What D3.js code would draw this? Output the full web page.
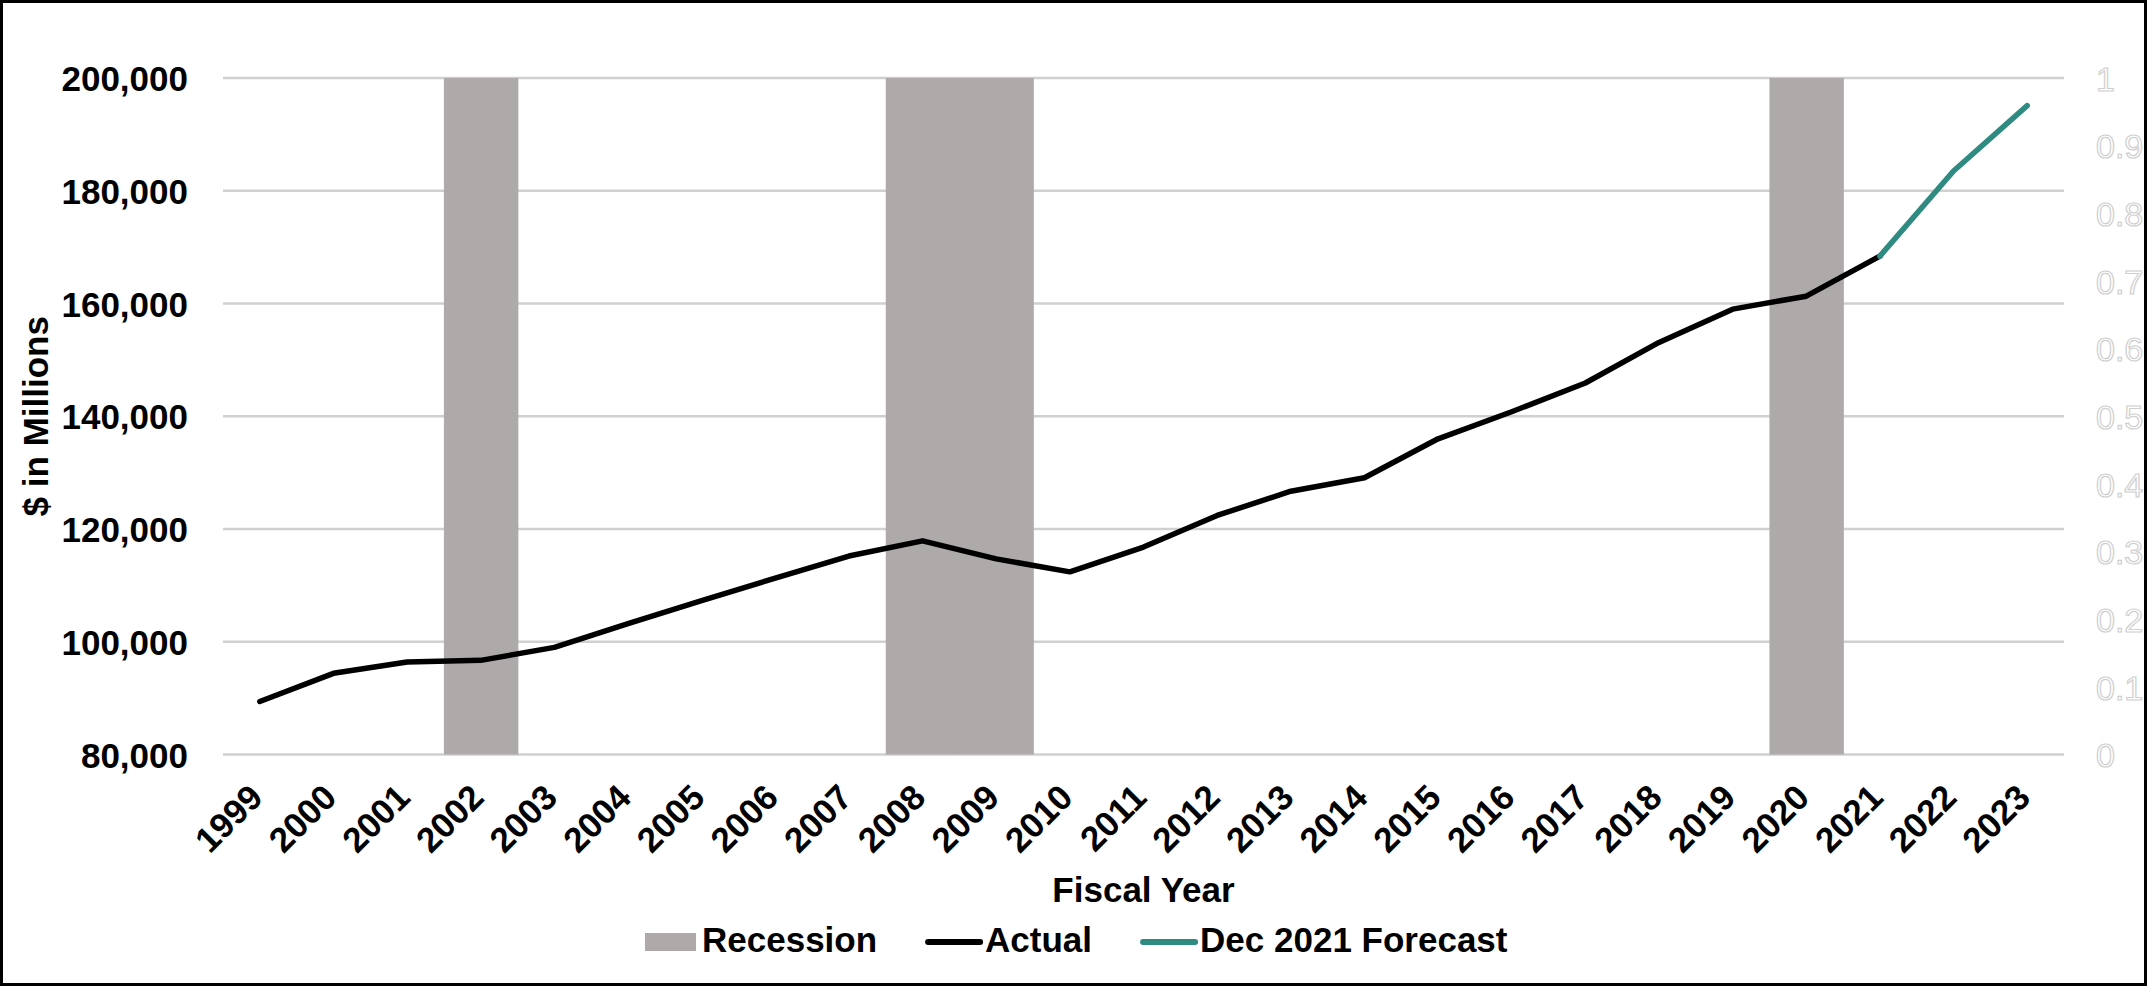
<!DOCTYPE html>
<html lang="en">
<head>
    <meta charset="UTF-8">
    <script src="https://cdn.jsdelivr.net/npm/d3@7/dist/d3.min.js"></script>
    <style type="text/css">
        * {
            margin: 0;
            padding: 0;
        }

        body {
            background-color: white;
            overflow: hidden;
        }

        svg {
            display: block;
            font-family: "Liberation Sans", Arial, Helvetica, sans-serif;
        }
    </style>
    <title>Fiscal Year Revenue</title>
</head>
<body>
    <div id="chartContainer"></div>

    <script>

        //data
        var years = ["1999", "2000", "2001", "2002", "2003", "2004", "2005", "2006", "2007", "2008",
                     "2009", "2010", "2011", "2012", "2013", "2014", "2015", "2016", "2017", "2018",
                     "2019", "2020", "2021", "2022", "2023"];

        var actual = [89400, 94400, 96400, 96700, 99000, 103200, 107300, 111300, 115200, 117900,
                      114700, 112400, 116800, 122400, 126700, 129100, 136000, 140800, 145900, 153100,
                      159000, 161300, 168400, null, null];

        var forecast = [null, null, null, null, null, null, null, null, null, null,
                        null, null, null, null, null, null, null, null, null, null,
                        null, null, 168400, 183500, 195100];

        //recession flag on the secondary axis (0 - 1)
        var recession = [0, 0, 0, 1, 0, 0, 0, 0, 0, 1,
                         1, 0, 0, 0, 0, 0, 0, 0, 0, 0,
                         0, 1, 0, 0, 0];

        var leftTicks = [80000, 100000, 120000, 140000, 160000, 180000, 200000];
        var rightTicks = [0, 0.1, 0.2, 0.3, 0.4, 0.5, 0.6, 0.7, 0.8, 0.9, 1];

        var legendItems = ["Recession", "Actual", "Dec 2021 Forecast"];

        //Width and height
        var w = 2147;
        var h = 986;
        var plotLeft = 223, plotRight = 2064, plotTop = 78, plotBottom = 754.5;

        var grey = "#aeaaaa";
        var teal = "#2f8a82";
        var fontSize = 35;

        var svg = d3.select("#chartContainer")
                    .append("svg")
                    .attr("width", w)
                    .attr("height", h);

        svg.append("rect")
            .attr("width", w)
            .attr("height", h)
            .attr("fill", "white");

        //scales
        var xScale = d3.scaleBand()
                    .domain(years)
                    .range([plotLeft, plotRight])
                    .padding(0);

        var yScale = d3.scaleLinear()
                    .domain([80000, 200000])
                    .range([plotBottom, plotTop]);

        var y2Scale = d3.scaleLinear()
                    .domain([0, 1])
                    .range([plotBottom, plotTop]);

        //gridlines
        svg.append("g")
            .attr("class", "grid")
            .selectAll("line")
            .data(leftTicks)
            .enter()
            .append("line")
            .attr("x1", plotLeft)
            .attr("x2", plotRight)
            .attr("y1", function(d) { return yScale(d); })
            .attr("y2", function(d) { return yScale(d); })
            .attr("stroke", "#d0d0d0")
            .attr("stroke-width", 2.5);

        //recession bars (a hair wider so neighbours join without a seam)
        svg.append("g")
            .attr("class", "recession")
            .selectAll("rect")
            .data(years.filter(function(d, i) { return recession[i] > 0; }))
            .enter()
            .append("rect")
            .attr("x", function(d) { return xScale(d); })
            .attr("width", xScale.bandwidth() + 0.8)
            .attr("y", function(d) { return y2Scale(recession[years.indexOf(d)]); })
            .attr("height", function(d) { return plotBottom - y2Scale(recession[years.indexOf(d)]); })
            .attr("fill", grey);

        //lines
        var line = function(values) {
            return d3.line()
                .defined(function(d, i) { return values[i] !== null; })
                .x(function(d) { return xScale(d) + xScale.bandwidth() / 2; })
                .y(function(d, i) { return yScale(values[i]); });
        };

        svg.append("path")
            .attr("d", line(actual)(years))
            .attr("fill", "none")
            .attr("stroke", "black")
            .attr("stroke-width", 5.5)
            .attr("stroke-linejoin", "round")
            .attr("stroke-linecap", "round");

        svg.append("path")
            .attr("d", line(forecast)(years))
            .attr("fill", "none")
            .attr("stroke", teal)
            .attr("stroke-width", 5.5)
            .attr("stroke-linejoin", "round")
            .attr("stroke-linecap", "round");

        //left axis
        var yAxis = d3.axisLeft(yScale)
                    .tickValues(leftTicks)
                    .tickFormat(d3.format(","))
                    .tickSize(0)
                    .tickPadding(0);

        svg.append("g")
            .attr("class", "axis y")
            .attr("transform", "translate(188,0)")
            .call(yAxis)
            .call(function(g) { g.select(".domain").remove(); })
            .selectAll("text")
            .attr("font-size", fontSize + "px")
            .attr("font-weight", "bold")
            .attr("font-family", "Liberation Sans, Arial, sans-serif")
            .attr("fill", "black")
            .attr("dy", "0.36em");

        //right axis (hollow text)
        var y2Axis = d3.axisRight(y2Scale)
                    .tickValues(rightTicks)
                    .tickFormat(function(d) { return d3.format("")(+d.toFixed(1)); })
                    .tickSize(0)
                    .tickPadding(0);

        svg.append("g")
            .attr("class", "axis y2")
            .attr("transform", "translate(2096,0)")
            .call(y2Axis)
            .call(function(g) { g.select(".domain").remove(); })
            .selectAll("text")
            .attr("font-size", "34px")
            .attr("font-family", "Liberation Sans, Arial, sans-serif")
            .attr("fill", "white")
            .attr("stroke", "#cfcfcf")
            .attr("stroke-width", 1.2)
            .attr("dy", "0.36em");

        //x axis labels
        svg.append("g")
            .attr("class", "axis x")
            .selectAll("text")
            .data(years)
            .enter()
            .append("text")
            .attr("transform", function(d) {
                return "translate(" + (xScale(d) + xScale.bandwidth() / 2 + 5) + "," + (plotBottom + 45) + ") rotate(-45)";
            })
            .attr("text-anchor", "end")
            .attr("font-size", fontSize + "px")
            .attr("font-weight", "bold")
            .text(function(d) { return d; });

        //axis titles
        svg.append("text")
            .attr("x", (plotLeft + plotRight) / 2)
            .attr("y", 902)
            .attr("text-anchor", "middle")
            .attr("font-size", fontSize + "px")
            .attr("font-weight", "bold")
            .text("Fiscal Year");

        svg.append("text")
            .attr("transform", "translate(48," + (plotTop + plotBottom) / 2 + ") rotate(-90)")
            .attr("text-anchor", "middle")
            .attr("font-size", fontSize + "px")
            .attr("font-weight", "bold")
            .text("$ in Millions");

        //legend
        var legend = svg.append("g").attr("class", "legend");
        var lx = 645;
        var ly = 942;
        legendItems.forEach(function(name, i) {
            var tx;
            if (i === 0) {
                legend.append("rect")
                    .attr("x", lx)
                    .attr("y", ly - 9)
                    .attr("width", 51)
                    .attr("height", 18)
                    .attr("fill", grey);
                tx = lx + 57;
            } else {
                legend.append("line")
                    .attr("x1", lx + 3)
                    .attr("x2", lx + 55)
                    .attr("y1", ly)
                    .attr("y2", ly)
                    .attr("stroke", i === 1 ? "black" : teal)
                    .attr("stroke-width", 6)
                    .attr("stroke-linecap", "round");
                tx = lx + 60;
            }
            var t = legend.append("text")
                .attr("x", tx)
                .attr("y", ly + 10)
                .attr("font-size", fontSize + "px")
                .attr("font-weight", "bold")
                .text(name);
            lx = tx + t.node().getComputedTextLength() + 48;
        });

        //outer frame
        svg.append("rect")
            .attr("x", 1.5)
            .attr("y", 1.5)
            .attr("width", w - 3)
            .attr("height", h - 3)
            .attr("fill", "none")
            .attr("stroke", "black")
            .attr("stroke-width", 3);

    </script>
</body>
</html>
